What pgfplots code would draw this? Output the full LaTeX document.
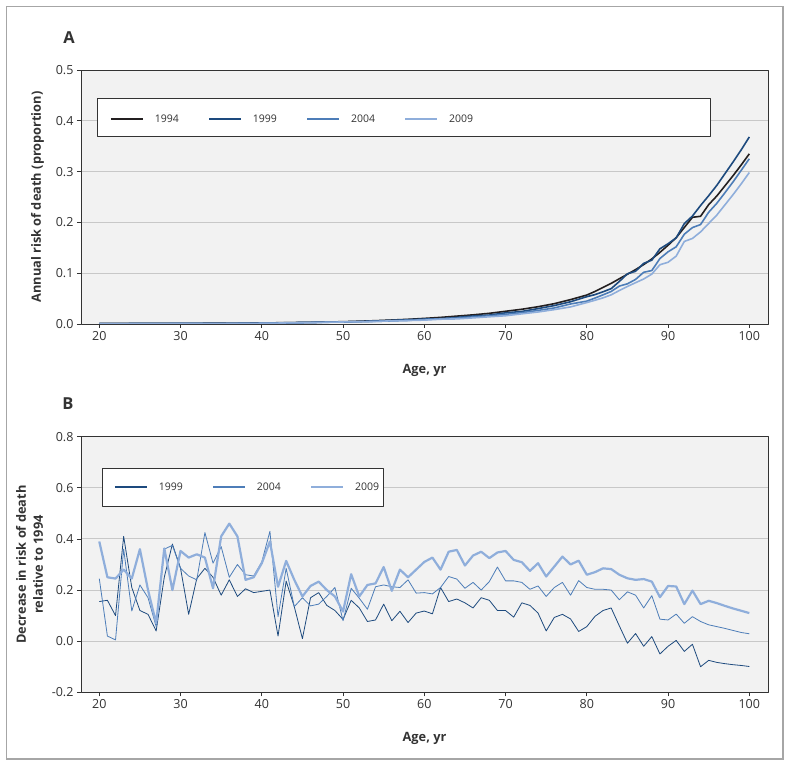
\documentclass[border=0pt]{standalone}
\usepackage{fontspec}
\setmainfont{Open Sans}
\usepackage{pgfplots}
\pgfplotsset{compat=1.18}
\definecolor{c94}{HTML}{231F20}
\definecolor{c99}{HTML}{1D4A7E}
\definecolor{c04}{HTML}{4D7DB8}
\definecolor{c09}{HTML}{8FAEDB}
\definecolor{bg}{HTML}{F2F2F2}
\definecolor{gridc}{HTML}{C8C8C8}
\definecolor{axc}{HTML}{333333}
\definecolor{framec}{HTML}{A6A6A6}
\pgfplotsset{
  myaxis/.style={
    scale only axis, width=687pt,
    xmin=17.75, xmax=102.3,
    xtick={20,30,...,100},
    xtick pos=bottom, ytick pos=left,
    axis background/.style={fill=bg},
    axis line style={axc, line width=0.9pt},
    major tick style={axc, line width=0.8pt},
    tick align=outside, major tick length=4pt,
    ymajorgrids, grid style={gridc, line width=0.9pt},
    tick label style={font=\fontsize{12.5}{14}\selectfont, text=axc},
    /pgf/number format/assume math mode=true,
    yticklabel style={/pgf/number format/fixed, /pgf/number format/precision=1, /pgf/number format/fixed zerofill},
    label style={font=\bfseries\fontsize{12.8}{17}\selectfont, text=axc},
    xlabel={Age, yr},
    xlabel style={at={(axis description cs:0.5,0)}, anchor=center, yshift=-46pt},
    legend image code/.code={\draw[#1, line width=1.6pt, line cap=butt] (0pt,0pt) -- (32pt,0pt);},
    legend style={draw=none, fill=none, inner sep=0pt, font=\fontsize{10.5}{12}\selectfont, text=axc,
      nodes={inner sep=0pt},
      /tikz/every odd column/.append style={column sep=11pt},
      /tikz/every even column/.append style={column sep=29.5pt}},
    legend columns=-1,
    line join=round,
  }
}
\begin{document}
\begin{tikzpicture}
\useasboundingbox (0,0) rectangle (791pt,767pt);
\draw[framec, line width=1.5pt] (6.5pt,8pt) rectangle (783pt,760.5pt);
\node[font=\bfseries\fontsize{16.5}{18}\selectfont, text=axc] at (69pt,729pt) {A};
\node[font=\bfseries\fontsize{16.5}{18}\selectfont, text=axc] at (68pt,363pt) {B};
% ---------------- Panel A ----------------
\begin{axis}[myaxis, at={(81pt,443pt)}, anchor=south west, height=254pt,
  ymin=0, ymax=0.5, ytick={0,0.1,0.2,0.3,0.4,0.5},
  ylabel={Annual risk of death (proportion)},
  ylabel style={at={(axis description cs:0,0.5)}, anchor=center, yshift=43.5pt},
  legend style={at={(rel axis cs:0.0422,0.807)}, anchor=west}]
\addplot[c94, line width=1.6pt] coordinates {(20,0.001)(25,0.001)(30,0.0012)(35,0.0015)(40,0.002)(45,0.003)(50,0.0045)(52,0.0055)(54,0.0065)(56,0.0078)(58,0.0092)(60,0.011)(62,0.013)(64,0.0155)(66,0.018)(68,0.021)(70,0.025)(72,0.029)(74,0.034)(76,0.040)(78,0.048)(80,0.057)(81,0.064)(82,0.072)(83,0.080)(84,0.089)(85,0.098)(86,0.107)(87,0.117)(88,0.128)(89,0.141)(90,0.155)(91,0.170)(92,0.190)(93,0.210)(94,0.212)(95,0.235)(96,0.252)(97,0.272)(98,0.292)(99,0.313)(100,0.335)};
\addlegendentry{1994}
\addplot[c99, line width=1.6pt] coordinates {(20,0.0008)(25,0.0009)(30,0.0009)(35,0.0012)(40,0.0016)(45,0.003)(50,0.0041)(52,0.0048)(54,0.0060)(56,0.0072)(58,0.0085)(60,0.0097)(62,0.0103)(64,0.0129)(66,0.0157)(68,0.0176)(70,0.022)(72,0.0247)(74,0.0303)(76,0.0363)(78,0.0438)(80,0.0538)(81,0.0578)(82,0.0634)(83,0.0696)(84,0.0837)(85,0.0988)(86,0.1038)(87,0.1193)(88,0.1257)(89,0.148)(90,0.158)(91,0.1695)(92,0.1976)(93,0.2125)(94,0.2332)(95,0.2526)(96,0.2729)(97,0.2959)(98,0.3189)(99,0.3427)(100,0.3682)};
\addlegendentry{1999}
\addplot[c04, line width=1.6pt] coordinates {(20,0.00075)(25,0.0008)(30,0.0009)(35,0.001)(40,0.0014)(45,0.0025)(50,0.0041)(52,0.0046)(54,0.0051)(56,0.0061)(58,0.0070)(60,0.0089)(62,0.0103)(64,0.0117)(66,0.0139)(68,0.0161)(70,0.0191)(72,0.0223)(74,0.0267)(76,0.0316)(78,0.0394)(80,0.0450)(81,0.0510)(82,0.0574)(83,0.064)(84,0.0746)(85,0.0791)(86,0.0877)(87,0.1018)(88,0.1052)(89,0.1289)(90,0.1421)(91,0.1520)(92,0.1767)(93,0.1898)(94,0.1957)(95,0.220)(96,0.2376)(97,0.2584)(98,0.2797)(99,0.3024)(100,0.3253)};
\addlegendentry{2004}
\addplot[c09, line width=1.6pt] coordinates {(20,0.0006)(25,0.0007)(30,0.0008)(35,0.0008)(40,0.0014)(45,0.0025)(50,0.0040)(52,0.0045)(54,0.0050)(56,0.0063)(58,0.0069)(60,0.0076)(62,0.0094)(64,0.0100)(66,0.0120)(68,0.0142)(70,0.0162)(72,0.0200)(74,0.0236)(76,0.0283)(78,0.0336)(80,0.0422)(81,0.0467)(82,0.0515)(83,0.0574)(84,0.0659)(85,0.0739)(86,0.0813)(87,0.0886)(88,0.0982)(89,0.1167)(90,0.1215)(91,0.1336)(92,0.1625)(93,0.1684)(94,0.1813)(95,0.1979)(96,0.2144)(97,0.2345)(98,0.2546)(99,0.2758)(100,0.2982)};
\addlegendentry{2009}
\draw[axc, line width=0.9pt, fill=white] (rel axis cs:0.0233,0.740) rectangle (rel axis cs:0.9156,0.886);
\end{axis}
% ---------------- Panel B ----------------
\begin{axis}[myaxis, at={(81pt,74.7pt)}, anchor=south west, height=255.6pt,
  ymin=-0.2, ymax=0.8, ytick={-0.2,0,0.2,0.4,0.6,0.8},
  ylabel={Decrease in risk of death\\relative to 1994},
  ylabel style={at={(axis description cs:0,0.5)}, anchor=center, yshift=51.5pt, align=center},
  legend style={at={(rel axis cs:0.048,0.803)}, anchor=west}]
\addplot[c99, line width=0.8pt] coordinates {(20,0.155)(21,0.16)(22,0.10)(23,0.41)(24,0.21)(25,0.12)(26,0.105)(27,0.04)(28,0.25)(29,0.38)(30,0.285)(31,0.105)(32,0.245)(33,0.285)(34,0.25)(35,0.18)(36,0.24)(37,0.175)(38,0.205)(39,0.19)(40,0.195)(41,0.20)(42,0.02)(43,0.235)(44,0.135)(45,0.01)(46,0.17)(47,0.19)(48,0.14)(49,0.12)(50,0.085)(51,0.16)(52,0.13)(53,0.077)(54,0.083)(55,0.145)(56,0.08)(57,0.117)(58,0.073)(59,0.11)(60,0.118)(61,0.107)(62,0.21)(63,0.155)(64,0.165)(65,0.15)(66,0.13)(67,0.17)(68,0.16)(69,0.12)(70,0.12)(71,0.094)(72,0.15)(73,0.14)(74,0.11)(75,0.04)(76,0.093)(77,0.105)(78,0.087)(79,0.038)(80,0.057)(81,0.097)(82,0.12)(83,0.13)(84,0.06)(85,-0.008)(86,0.03)(87,-0.02)(88,0.018)(89,-0.05)(90,-0.02)(91,0.003)(92,-0.04)(93,-0.012)(94,-0.10)(95,-0.075)(96,-0.083)(97,-0.088)(98,-0.092)(99,-0.095)(100,-0.099)};
\addlegendentry{1999}
\addplot[c04, line width=0.8pt] coordinates {(20,0.245)(21,0.02)(22,0.005)(23,0.36)(24,0.118)(25,0.22)(26,0.17)(27,0.057)(28,0.36)(29,0.375)(30,0.285)(31,0.255)(32,0.24)(33,0.425)(34,0.305)(35,0.37)(36,0.25)(37,0.30)(38,0.26)(39,0.255)(40,0.31)(41,0.43)(42,0.096)(43,0.285)(44,0.135)(45,0.17)(46,0.138)(47,0.145)(48,0.175)(49,0.21)(50,0.08)(51,0.207)(52,0.168)(53,0.125)(54,0.213)(55,0.22)(56,0.213)(57,0.21)(58,0.24)(59,0.188)(60,0.19)(61,0.185)(62,0.21)(63,0.253)(64,0.243)(65,0.207)(66,0.23)(67,0.2)(68,0.233)(69,0.29)(70,0.236)(71,0.236)(72,0.23)(73,0.203)(74,0.216)(75,0.175)(76,0.21)(77,0.23)(78,0.18)(79,0.237)(80,0.21)(81,0.203)(82,0.203)(83,0.2)(84,0.162)(85,0.193)(86,0.18)(87,0.13)(88,0.178)(89,0.086)(90,0.083)(91,0.106)(92,0.07)(93,0.096)(94,0.077)(95,0.064)(96,0.057)(97,0.05)(98,0.042)(99,0.034)(100,0.029)};
\addlegendentry{2004}
\addplot[c09, line width=2.2pt] coordinates {(20,0.39)(21,0.25)(22,0.245)(23,0.28)(24,0.245)(25,0.36)(26,0.2)(27,0.07)(28,0.363)(29,0.2)(30,0.353)(31,0.327)(32,0.34)(33,0.327)(34,0.207)(35,0.41)(36,0.46)(37,0.41)(38,0.24)(39,0.25)(40,0.305)(41,0.39)(42,0.213)(43,0.314)(44,0.24)(45,0.175)(46,0.216)(47,0.233)(48,0.2)(49,0.175)(50,0.116)(51,0.262)(52,0.175)(53,0.22)(54,0.226)(55,0.29)(56,0.197)(57,0.28)(58,0.25)(59,0.28)(60,0.31)(61,0.327)(62,0.28)(63,0.35)(64,0.357)(65,0.296)(66,0.335)(67,0.35)(68,0.325)(69,0.347)(70,0.353)(71,0.318)(72,0.309)(73,0.275)(74,0.305)(75,0.253)(76,0.292)(77,0.331)(78,0.3)(79,0.315)(80,0.26)(81,0.27)(82,0.285)(83,0.282)(84,0.26)(85,0.246)(86,0.24)(87,0.243)(88,0.233)(89,0.172)(90,0.216)(91,0.214)(92,0.145)(93,0.198)(94,0.145)(95,0.158)(96,0.149)(97,0.138)(98,0.128)(99,0.119)(100,0.11)};
\addlegendentry{2009}
\draw[axc, line width=0.9pt, fill=white] (rel axis cs:0.0306,0.729) rectangle (rel axis cs:0.4396,0.874);
\end{axis}
\end{tikzpicture}
\end{document}
